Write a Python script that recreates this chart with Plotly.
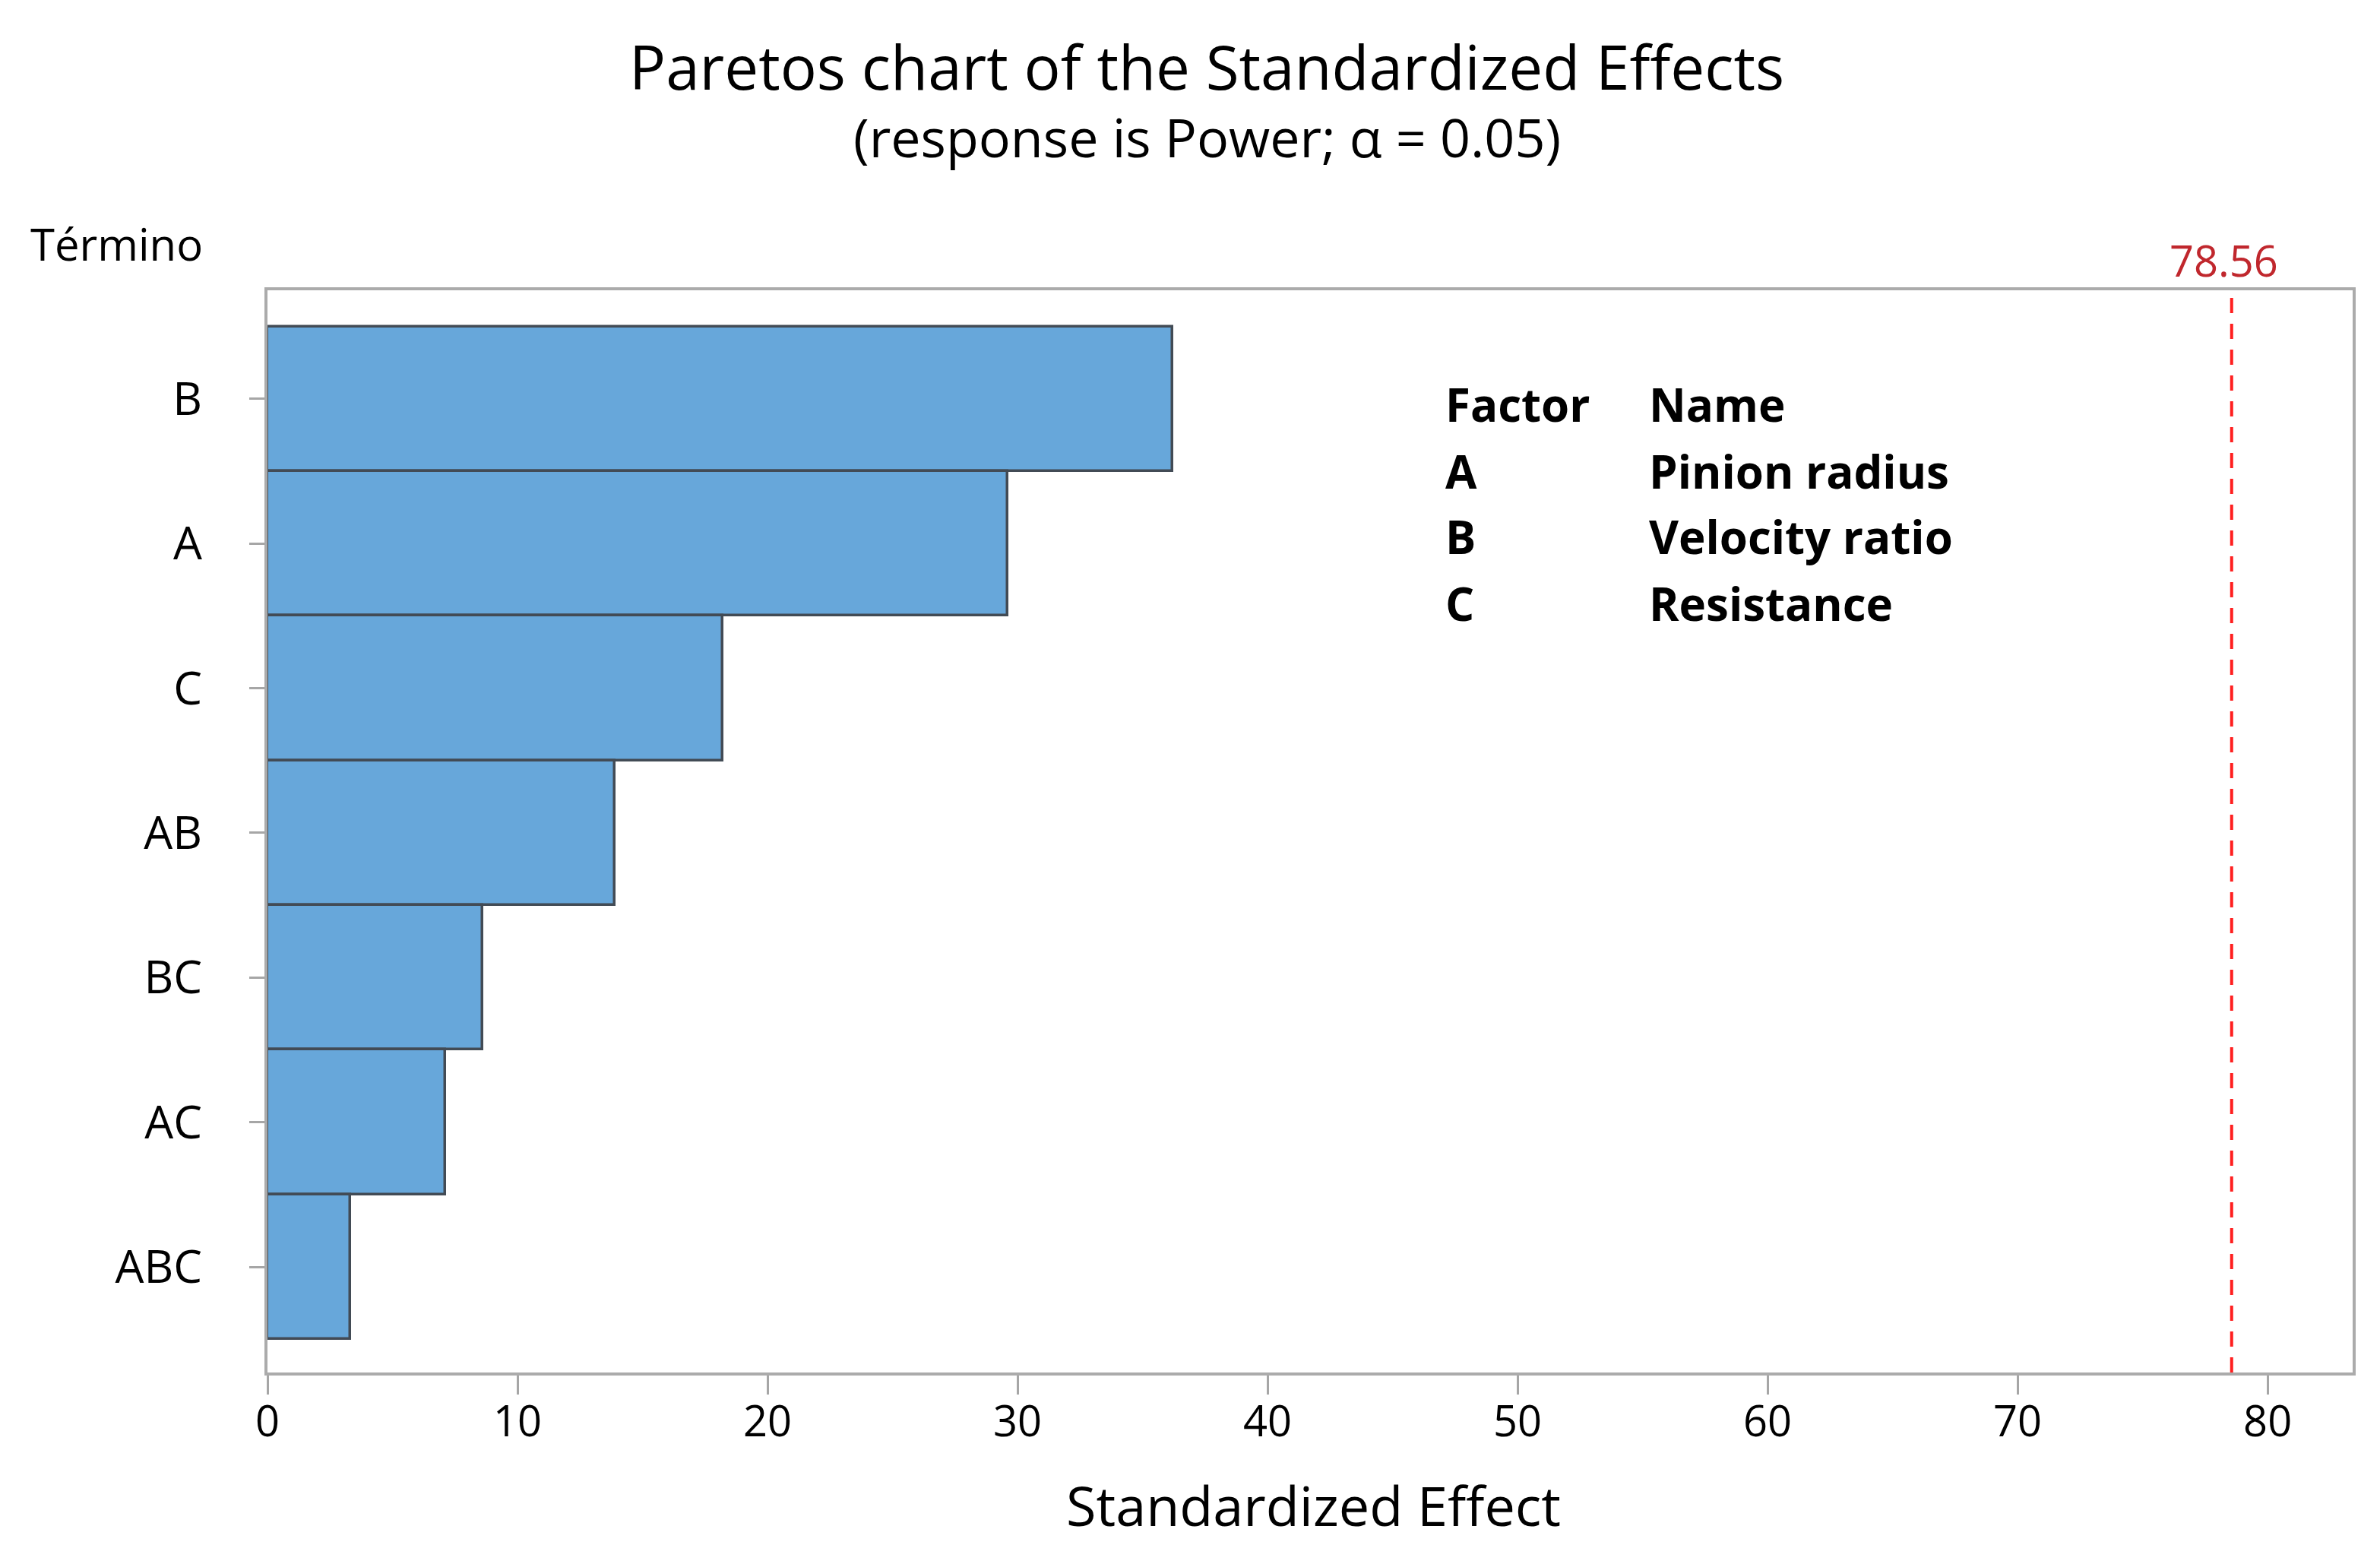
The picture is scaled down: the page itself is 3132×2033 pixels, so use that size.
import plotly.graph_objects as go

# ---- data ----
terms = ["B", "A", "C", "AB", "BC", "AC", "ABC"]
effects = [36.2, 29.6, 18.2, 13.9, 8.6, 7.1, 3.3]
critical_value = 78.56
x_ticks = [0, 10, 20, 30, 40, 50, 60, 70, 80]
factor_codes = ["A", "B", "C"]
factor_names = ["Pinion radius", "Velocity ratio", "Resistance"]

FONT = "Open Sans"
W, H = 3132, 2033
L, R, T, B = 344, 44, 374, 235
PW, PH = W - L - R, H - T - B


def xp(px):
    return (px - L) / PW


def yp(py):
    return (H - B - py) / PH


fig = go.Figure()
fig.add_trace(go.Bar(
    x=effects, y=terms, orientation="h",
    marker=dict(color="#67A7DA", line=dict(color="#424B55", width=3.5)),
    width=1.0, showlegend=False,
))

fig.update_layout(
    width=W, height=H,
    margin=dict(l=L, r=R, t=T, b=B),
    paper_bgcolor="white", plot_bgcolor="white",
    bargap=0,
    font=dict(family=FONT, color="black"),
    xaxis=dict(
        range=[0, 83.4], tickvals=x_ticks, ticks="outside", ticklen=25, tickwidth=3,
        tickcolor="#a6a6a6", showgrid=False, zeroline=False,
        showline=True, linecolor="#ababab", linewidth=4, mirror=True,
        tickfont=dict(size=56, family=FONT, color="black"),
        ticklabelstandoff=-12,
    ),
    yaxis=dict(
        type="category", categoryorder="array", categoryarray=terms,
        range=[6.73, -0.75], ticks="outside", ticklen=20, tickwidth=3,
        tickcolor="#a6a6a6", showgrid=False, zeroline=False,
        showline=True, linecolor="#ababab", linewidth=4, mirror=True,
        tickfont=dict(size=60, family=FONT, color="black"),
        ticklabelstandoff=50,
    ),
)

# critical value reference line
fig.add_shape(type="line", xref="x", yref="paper", x0=critical_value, x1=critical_value,
              y0=0, y1=1, line=dict(color="#ff1f1f", width=4, dash="20px,14px"))
fig.add_annotation(x=critical_value, xref="x", y=1, yref="paper", yanchor="bottom",
                   xshift=-10, yshift=0, text=f"{critical_value:.2f}", showarrow=False,
                   font=dict(size=56, family=FONT, color="#c0272d"))

# titles
fig.add_annotation(x=xp(1580), xref="paper", y=yp(78), yref="paper",
                   text="Paretos chart of the Standardized Effects", showarrow=False,
                   xanchor="center", yanchor="middle",
                   font=dict(size=80, family=FONT, color="black"))
fig.add_annotation(x=xp(1580), xref="paper", y=yp(172), yref="paper",
                   text="(response is Power; α = 0.05)", showarrow=False,
                   xanchor="center", yanchor="middle",
                   font=dict(size=70, family=FONT, color="black"))
fig.add_annotation(x=xp(30), xref="paper", y=yp(312), yref="paper",
                   text="Término", showarrow=False, xanchor="left", yanchor="middle",
                   font=dict(size=58, family=FONT, color="black"))
fig.add_annotation(x=xp(1720), xref="paper", y=yp(1972), yref="paper",
                   text="Standardized Effect", showarrow=False,
                   xanchor="center", yanchor="middle",
                   font=dict(size=72, family=FONT, color="black"))

# factor table
rows = [("Factor", "Name")] + list(zip(factor_codes, factor_names))
row_y = [524, 612, 698, 786]
for (c1, c2), yy in zip(rows, row_y):
    fig.add_annotation(x=xp(1892), xref="paper", y=yp(yy), yref="paper",
                       text=f"<b>{c1}</b>", showarrow=False, xanchor="left", yanchor="middle",
                       font=dict(size=60, family=FONT, color="black"))
    fig.add_annotation(x=xp(2160), xref="paper", y=yp(yy), yref="paper",
                       text=f"<b>{c2}</b>", showarrow=False, xanchor="left", yanchor="middle",
                       font=dict(size=60, family=FONT, color="black"))

fig.write_html("out.html")
